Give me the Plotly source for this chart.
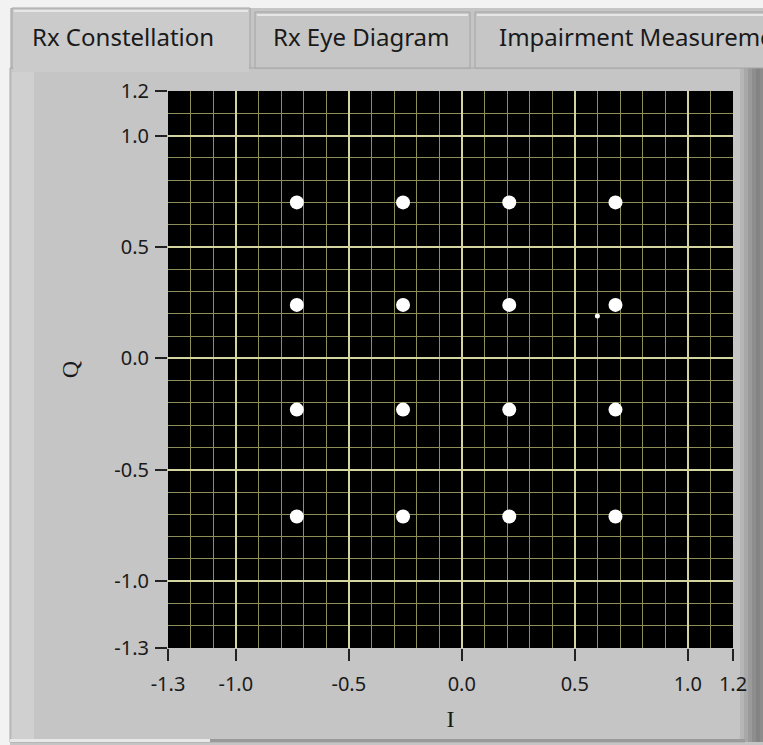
import plotly.graph_objects as go

# ---- data ----
i_levels = [-0.73, -0.26, 0.21, 0.68]
q_levels = [0.70, 0.24, -0.23, -0.71]
outlier_i = [0.60]
outlier_q = [0.19]
tick_vals = [-1.3, -1.0, -0.5, 0.0, 0.5, 1.0, 1.2]
tick_text = ["-1.3", "-1.0", "-0.5", "0.0", "0.5", "1.0", "1.2"]
tab_labels = ["Rx Constellation", "Rx Eye Diagram", "Impairment Measurements"]

W, H = 763, 745
L, R, T, B = 168, 733, 91, 648

def px(x):
    return (x - L) / (R - L)

def py(y):
    return (B - y) / (B - T)

pts_i = [i for q in q_levels for i in i_levels]
pts_q = [q for q in q_levels for i in i_levels]

fig = go.Figure()
fig.add_trace(go.Scatter(x=pts_i, y=pts_q, mode="markers",
                         marker=dict(color="white", size=14, line=dict(width=0)),
                         showlegend=False, hoverinfo="skip"))
fig.add_trace(go.Scatter(x=outlier_i, y=outlier_q, mode="markers",
                         marker=dict(color="white", size=5, line=dict(width=0)),
                         showlegend=False, hoverinfo="skip"))

shapes = []
def rect(x0, y0, x1, y1, fill, line=None, lw=0, layer="below"):
    shapes.append(dict(type="rect", xref="paper", yref="paper",
                       x0=px(x0), x1=px(x1), y0=py(y1), y1=py(y0),
                       fillcolor=fill, line=dict(color=line or fill, width=lw), layer=layer))

# outer white border area
rect(0, 0, W, 8, "#f2f2f2")
rect(0, 0, 10, H, "#f2f2f2")
# panel
rect(10, 68, 745, 742, "#c5c5c5", "#a8a8a8", 1)
rect(12, 72, 34, 740, "#d0d0d0")
# right shadow gradient
shades = ["#b6b6b6", "#a8a8a8", "#9a9a9a", "#8e8e8e", "#848484", "#8c8c8c"]
for k, c in enumerate(shades):
    rect(740 + 4 * k, 20, 744 + 4 * k, 742, c)
# bottom line
rect(10, 739, 745, 742, "#9a9a9a")
rect(10, 739, 210, 742, "#e8e8e8")
# tabs
tab_x = [(12, 250), (255, 470), (475, 770)]
for k, (a, b) in enumerate(tab_x):
    fill = "#cbcbcb" if k == 0 else "#c6c6c6"
    top = 8 if k == 0 else 12
    rect(a, top, b, 68, fill, "#a4a4a4", 1)
    rect(a + 2, top + 2, b - 2, top + 4, "#e6e6e6")
rect(13, 64, 249, 72, "#cbcbcb")
# plot area background (black)
rect(L, T, R, B, "black")

annotations = []
tab_x0 = [30, 271, 497]
for k, lab in enumerate(tab_labels):
    annotations.append(dict(xref="paper", yref="paper", x=px(tab_x0[k]), y=py(37),
                            text=lab, showarrow=False,
                            xanchor="left", yanchor="middle",
                            font=dict(family="Noto Sans", size=24, color="#1a1a1a")))

fig.update_layout(
    width=W, height=H,
    margin=dict(l=L, r=W - R, t=T, b=H - B),
    paper_bgcolor="#c5c5c5", plot_bgcolor="black",
    shapes=shapes, annotations=annotations,
    font=dict(family="Noto Sans", size=20, color="#1a1a1a"),
)
grid_major = "#d4d4a0"
grid_minor = "#8e8e58"
common = dict(range=[-1.3, 1.2], tickvals=tick_vals, ticktext=tick_text,
              ticks="outside", ticklen=12, tickwidth=2, tickcolor="#222",
              showgrid=True, gridcolor=grid_major, gridwidth=1.5,
              zeroline=False, showline=False, fixedrange=True,
              minor=dict(dtick=0.1, tick0=0, showgrid=True, gridcolor=grid_minor, gridwidth=1, ticks=""),
              tickfont=dict(family="Noto Sans", size=20, color="#1a1a1a"))
fig.update_xaxes(**common, ticklabelstandoff=6,
                 title=dict(text="I", standoff=14,
                            font=dict(family="Liberation Serif", size=24, color="#1a1a1a")))
fig.update_yaxes(**common, ticklabelstandoff=2,
                 title=dict(text="Q", standoff=28,
                            font=dict(family="Liberation Serif", size=24, color="#1a1a1a")))

fig.write_html("out.html")
